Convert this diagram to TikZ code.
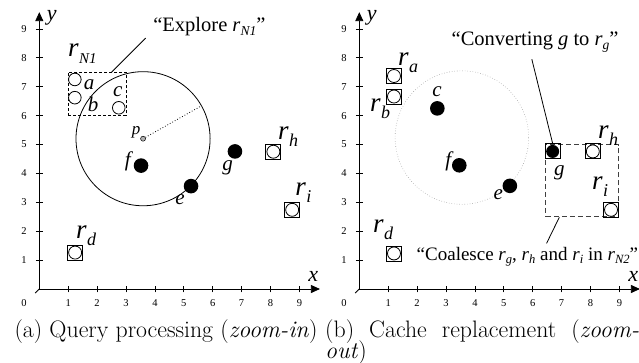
\documentclass[tikz,border=0pt]{standalone}
\usepackage{fontspec}
\newfontfamily\tms{Liberation Serif}
\usetikzlibrary{arrows.meta}
\newcommand\rlab[2][18]{{\fontsize{27}{27}\selectfont r}\kern0.5pt\raisebox{-7pt}{\fontsize{#1}{#1}\selectfont #2}}
\newcommand\rsub[1]{\textit{r}\raisebox{-0.19em}{\fontsize{0.66em}{0.66em}\selectfont\itshape #1}}
\tikzset{
  ax/.style={line width=0.8pt},
  tk/.style={line width=0.7pt},
  ticklab/.style={font=\tms\fontsize{10.5}{10.5}\selectfont, inner sep=0},
  ptlab/.style={font=\tms\itshape\fontsize{21}{21}\selectfont, inner sep=0},
  axlab/.style={font=\tms\itshape\fontsize{22}{22}\selectfont, inner sep=0},
  rl/.style={font=\tms\itshape, inner sep=0, anchor=base west},
  hollow/.style={circle, draw, line width=0.8pt, minimum size=12.6pt, inner sep=0, fill=white},
  sqcirc/.style={circle, draw, line width=0.8pt, minimum size=13pt, inner sep=0, fill=white},
  sqdot/.style={circle, fill=black, minimum size=13pt, inner sep=0},
  blackdot/.style={circle, fill=black, minimum size=14.6pt, inner sep=0},
  sq/.style={rectangle, draw, line width=0.9pt, minimum size=15pt, inner sep=0},
  note/.style={font=\tms\fontsize{20.5}{20.5}\selectfont, inner sep=0, anchor=base west},
  captxt/.style={font=\fontsize{23.8}{27}\selectfont, inner sep=0},
  leader/.style={line width=0.8pt},
}
\newcommand\axesdraw{%
  \draw[ax] (-0.14,-0.14) -- (0,0);
  \draw[ax,-{Triangle[length=9pt,width=8pt]}] (0,0) -- (0,9.58);
  \draw[ax,-{Triangle[length=9pt,width=8pt]}] (0,0) -- (9.71,0);
  \foreach \i in {1,...,9} {
    \draw[tk] (\i,-0.12) -- (\i,0.1);
    \draw[tk] (-0.12,\i) -- (0.12,\i);
    \node[ticklab] (tx\i) at (\i,-0.49) {\i};
    \node[ticklab] (ty\i) at (-0.53,\i) {\i};
  }
  \node[ticklab] (t0) at (-0.53,-0.49) {0};
  \node[axlab] (xl) at (9.48,0.43) {x};
  \node[axlab] (yl) at (0.43,9.37) {y};
}
\begin{document}
\begin{tikzpicture}
\useasboundingbox (0,0) rectangle (639pt,362pt);
% ---------------- panel (a)
\begin{scope}[shift={(39.3pt,73pt)}, x=28.9pt, y=28.9pt]
  \axesdraw
  \draw[line width=0.8pt] (3.59,5.2) circle (2.32);
  \node[circle, draw, fill=gray!60, line width=0.5pt, minimum size=5pt, inner sep=0] (p) at (3.59,5.2) {};
  \draw[dotted, line width=0.8pt] (p) -- ++(29.4:2.26);
  \node[font=\tms\itshape\fontsize{17}{17}\selectfont, inner sep=0] (pl) at (3.35,5.42) {p};
  \node[draw, line width=0.8pt, dash pattern=on 3pt off 2pt, minimum width=57.8pt, minimum height=43.35pt, inner sep=0] (rn1) at (2,6.75) {};
  \node[hollow] (a) at (1.23,7.25) {};
  \node[hollow] (b) at (1.23,6.62) {};
  \node[hollow] (c) at (2.75,6.27) {};
  \node[ptlab] (al) at (1.72,7.08) {a};
  \node[ptlab] (bl) at (1.86,6.38) {b};
  \node[ptlab] (cl) at (2.72,6.82) {c};
  \node[rl] (rn1l) at (0.99,8.03) {\rlab[15]{N1}};
  \node[note] (explore) at (3.94,8.90) {“Explore \rsub{N1}”};
  \coordinate (e1a) at (3.68,8.68);
  \coordinate (e1b) at (2.5,7.5);
  \draw[leader] (e1a) -- (e1b);
  \node[blackdot] (f) at (3.52,4.27) {};
  \node[blackdot] (e) at (5.25,3.56) {};
  \node[blackdot] (g) at (6.77,4.76) {};
  \node[ptlab] (fl) at (3.06,4.41) {f};
  \node[ptlab] (gl) at (6.52,4.18) {g};
  \node[ptlab] (el) at (4.87,3.10) {e};
  \node[sq] (rh) at (8.10,4.75) {}; \node[sqcirc] (rhc) at (8.10,4.75) {};
  \node[sq] (ri) at (8.75,2.74) {}; \node[sqcirc] (ric) at (8.75,2.74) {};
  \node[sq] (rd) at (1.24,1.26) {}; \node[sqcirc] (rdc) at (1.24,1.26) {};
  \node[rl] (rhl) at (8.26,5.16) {\rlab{h}};
  \node[rl] (ril) at (8.85,3.25) {\rlab{i}};
  \node[rl] (rdl) at (1.27,1.76) {\rlab{d}};
\end{scope}
% ---------------- panel (b)
\begin{scope}[shift={(359.3pt,73pt)}, x=28.9pt, y=28.9pt]
  \axesdraw
  \draw[dotted, draw=gray!70, line width=0.6pt] (3.55,5.24) circle (2.31);
  \node[sq] (ra) at (1.20,7.37) {}; \node[sqcirc] (rac) at (1.20,7.37) {};
  \node[sq] (rb) at (1.20,6.66) {}; \node[sqcirc] (rbc) at (1.20,6.66) {};
  \node[rl] (ral) at (1.34,7.75) {\rlab{a}};
  \node[rl] (rbl) at (0.37,6.13) {\rlab{b}};
  \node[blackdot] (c2) at (2.70,6.25) {};
  \node[ptlab] (c2l) at (2.69,6.84) {c};
  \node[blackdot] (f2) at (3.46,4.28) {};
  \node[ptlab] (f2l) at (3.08,4.42) {f};
  \node[blackdot] (e2) at (5.21,3.57) {};
  \node[ptlab] (e2l) at (4.81,3.27) {e};
  \node[draw=black!75, line width=1pt, dash pattern=on 5pt off 3pt, minimum width=72.5pt, minimum height=72pt, inner sep=0] (rn2) at (7.71,3.74) {};
  \node[sq] (g2) at (6.69,4.76) {}; \node[sqdot] (g2c) at (6.69,4.76) {};
  \node[ptlab] (g2l) at (6.92,4.03) {g};
  \node[sq] (rh2) at (8.08,4.76) {}; \node[sqcirc] (rh2c) at (8.08,4.76) {};
  \node[rl] (rh2l) at (8.26,5.22) {\rlab{h}};
  \node[sq] (ri2) at (8.71,2.74) {}; \node[sqcirc] (ri2c) at (8.71,2.74) {};
  \node[rl] (ri2l) at (8.05,3.43) {\rlab{i}};
  \node[sq] (rd2) at (1.20,1.23) {}; \node[sqcirc] (rd2c) at (1.20,1.23) {};
  \node[rl] (rd2l) at (0.47,1.97) {\rlab{d}};
  \node[note] (conv) at (3.19,8.41) {“Converting \textit{g} to \rsub{g}”};
  \coordinate (cva) at (5.97,7.95);
  \draw[leader] (cva) -- (g2.north);
  \node[note, font=\tms\fontsize{19}{19}\selectfont] (coal) at (1.98,1.0) {“Coalesce \rsub{g}, \rsub{h} and \rsub{i} in \rsub{N2}”};
  \coordinate (coa) at (6.48,1.58);
  \coordinate (cob) at (6.92,2.48);
  \draw[leader] (coa) -- (cob);
\end{scope}
% ---------------- captions
\node[captxt, anchor=base] (capa) at (166pt,25pt) {(a) Query processing (\textit{zoom-in})};
\node[captxt, anchor=base west] (capb1) at (325pt,25pt) {\makebox[314pt][s]{(b) Cache replacement (\textit{zoom-}}};
\node[captxt, anchor=base west] (capb2) at (325pt,3.8pt) {\textit{out}\smash{)}};
\end{tikzpicture}
\end{document}
